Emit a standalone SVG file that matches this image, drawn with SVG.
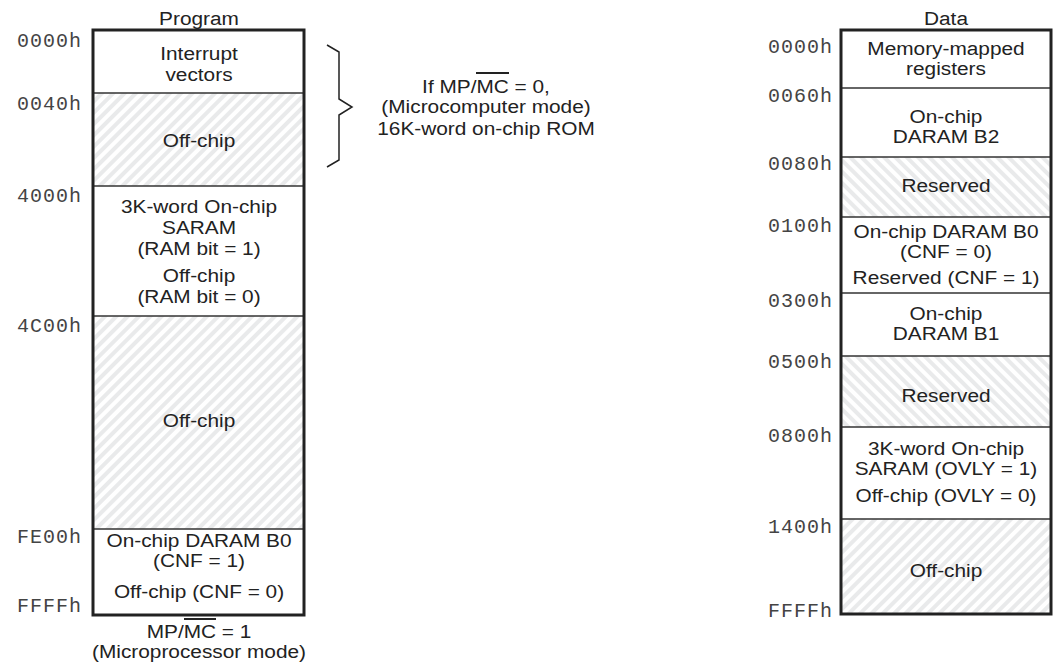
<svg xmlns="http://www.w3.org/2000/svg" width="1053" height="667" viewBox="0 0 1053 667">
<style>
.t{font-family:"Liberation Sans",Arial,sans-serif;font-size:17.8px;fill:#222;text-anchor:middle}
.a{font-family:"Liberation Mono","Courier New",monospace;font-size:20px;letter-spacing:1px;fill:#444}
.box{fill:none;stroke:#222;stroke-width:3}
.div{stroke:#333;stroke-width:1.5}
.wh{fill:#fff}
.off{fill:url(#hatchF)}
.res{fill:url(#hatchB)}
.ov{stroke:#222;stroke-width:2}
.br{fill:none;stroke:#222;stroke-width:1.5}
</style>
<defs>
<pattern id="hatchF" width="8" height="8" patternUnits="userSpaceOnUse" patternTransform="rotate(45)">
<rect width="8" height="8" fill="#fff"/><rect width="4" height="8" fill="#e9eaeb"/>
</pattern>
<pattern id="hatchB" width="8" height="8" patternUnits="userSpaceOnUse" patternTransform="rotate(-45)">
<rect width="8" height="8" fill="#fff"/><rect width="4" height="8" fill="#e9eaeb"/>
</pattern>
</defs>
<rect width="1053" height="667" fill="#fff"/>

<!-- Program map -->
<g id="program-map">
<g id="p-title" transform="translate(199 0) scale(1.17 1)"><text class="t" x="0" y="25">Program</text></g>
<g id="p-interrupt"><rect class="wh" x="93" y="30" width="211" height="63"/>
<g transform="translate(199 0) scale(1.17 1)"><text class="t" x="0" y="60">Interrupt</text><text class="t" x="0" y="81">vectors</text></g></g>
<g id="p-offchip1"><rect class="off" x="93" y="93" width="211" height="93"/>
<g transform="translate(199 0) scale(1.17 1)"><text class="t" x="0" y="147">Off-chip</text></g></g>
<g id="p-saram"><rect class="wh" x="93" y="186" width="211" height="130"/>
<g transform="translate(199 0) scale(1.17 1)"><text class="t" x="0" y="213">3K-word On-chip</text><text class="t" x="0" y="234">SARAM</text><text class="t" x="0" y="255">(RAM bit = 1)</text>
<text class="t" x="0" y="282">Off-chip</text><text class="t" x="0" y="303">(RAM bit = 0)</text></g></g>
<g id="p-offchip2"><rect class="off" x="93" y="316" width="211" height="213"/>
<g transform="translate(199 0) scale(1.17 1)"><text class="t" x="0" y="427">Off-chip</text></g></g>
<g id="p-daram"><rect class="wh" x="93" y="529" width="211" height="86"/>
<g transform="translate(199 0) scale(1.17 1)"><text class="t" x="0" y="547">On-chip DARAM B0</text><text class="t" x="0" y="567">(CNF = 1)</text><text class="t" x="0" y="598">Off-chip (CNF = 0)</text></g></g>
<line class="div" x1="93" y1="93" x2="304" y2="93"/>
<line class="div" x1="93" y1="186" x2="304" y2="186"/>
<line class="div" x1="93" y1="316" x2="304" y2="316"/>
<line class="div" x1="93" y1="529" x2="304" y2="529"/>
<rect class="box" x="93" y="30" width="211" height="585"/>
<g id="p-addresses">
<text class="a" x="17" y="47">0000h</text>
<text class="a" x="17" y="110">0040h</text>
<text class="a" x="17" y="202">4000h</text>
<text class="a" x="17" y="332">4C00h</text>
<text class="a" x="17" y="543">FE00h</text>
<text class="a" x="17" y="612">FFFFh</text>
</g>
<g id="p-mode"><g transform="translate(199 0) scale(1.17 1)"><text class="t" x="0" y="638">MP/MC = 1</text>
<text class="t" x="0" y="658">(Microprocessor mode)</text></g>
<line class="ov" x1="184" y1="619" x2="216" y2="619"/></g>
</g>

<!-- Brace annotation -->
<g id="connectors">
<path class="br" d="M327,45 L339,52 L339,99 L352,107 L339,115 L339,160 L327,167"/>
</g>
<g id="rom-note">
<g transform="translate(486 0) scale(1.17 1)">
<text class="t" x="0" y="93">If MP/MC = 0,</text>
<text class="t" x="0" y="113">(Microcomputer mode)</text>
<text class="t" x="0" y="135">16K-word on-chip ROM</text>
</g>
<line class="ov" x1="476" y1="73" x2="509" y2="73"/>
</g>

<!-- Data map -->
<g id="data-map">
<g id="d-title" transform="translate(946 0) scale(1.17 1)"><text class="t" x="0" y="25">Data</text></g>
<g id="d-mmr"><rect class="wh" x="841" y="30" width="210" height="58"/>
<g transform="translate(946 0) scale(1.17 1)"><text class="t" x="0" y="55">Memory-mapped</text><text class="t" x="0" y="75">registers</text></g></g>
<g id="d-b2"><rect class="wh" x="841" y="88" width="210" height="69"/>
<g transform="translate(946 0) scale(1.17 1)"><text class="t" x="0" y="123">On-chip</text><text class="t" x="0" y="143">DARAM B2</text></g></g>
<g id="d-res1"><rect class="res" x="841" y="157" width="210" height="60"/>
<g transform="translate(946 0) scale(1.17 1)"><text class="t" x="0" y="192">Reserved</text></g></g>
<g id="d-b0"><rect class="wh" x="841" y="217" width="210" height="76"/>
<g transform="translate(946 0) scale(1.17 1)"><text class="t" x="0" y="238">On-chip DARAM B0</text><text class="t" x="0" y="258">(CNF = 0)</text><text class="t" x="0" y="284">Reserved (CNF = 1)</text></g></g>
<g id="d-b1"><rect class="wh" x="841" y="293" width="210" height="63"/>
<g transform="translate(946 0) scale(1.17 1)"><text class="t" x="0" y="320">On-chip</text><text class="t" x="0" y="340">DARAM B1</text></g></g>
<g id="d-res2"><rect class="res" x="841" y="356" width="210" height="71"/>
<g transform="translate(946 0) scale(1.17 1)"><text class="t" x="0" y="402">Reserved</text></g></g>
<g id="d-saram"><rect class="wh" x="841" y="427" width="210" height="92"/>
<g transform="translate(946 0) scale(1.17 1)"><text class="t" x="0" y="455">3K-word On-chip</text><text class="t" x="0" y="475">SARAM (OVLY = 1)</text><text class="t" x="0" y="502">Off-chip (OVLY = 0)</text></g></g>
<g id="d-offchip"><rect class="off" x="841" y="519" width="210" height="95"/>
<g transform="translate(946 0) scale(1.17 1)"><text class="t" x="0" y="577">Off-chip</text></g></g>
<line class="div" x1="841" y1="88" x2="1051" y2="88"/>
<line class="div" x1="841" y1="157" x2="1051" y2="157"/>
<line class="div" x1="841" y1="217" x2="1051" y2="217"/>
<line class="div" x1="841" y1="293" x2="1051" y2="293"/>
<line class="div" x1="841" y1="356" x2="1051" y2="356"/>
<line class="div" x1="841" y1="427" x2="1051" y2="427"/>
<line class="div" x1="841" y1="519" x2="1051" y2="519"/>
<rect class="box" x="841" y="30" width="210" height="584"/>
<g id="d-addresses">
<text class="a" x="768" y="53">0000h</text>
<text class="a" x="768" y="102">0060h</text>
<text class="a" x="768" y="170">0080h</text>
<text class="a" x="768" y="232">0100h</text>
<text class="a" x="768" y="307">0300h</text>
<text class="a" x="768" y="368">0500h</text>
<text class="a" x="768" y="442">0800h</text>
<text class="a" x="768" y="533">1400h</text>
<text class="a" x="768" y="617">FFFFh</text>
</g>
</g>
</svg>
